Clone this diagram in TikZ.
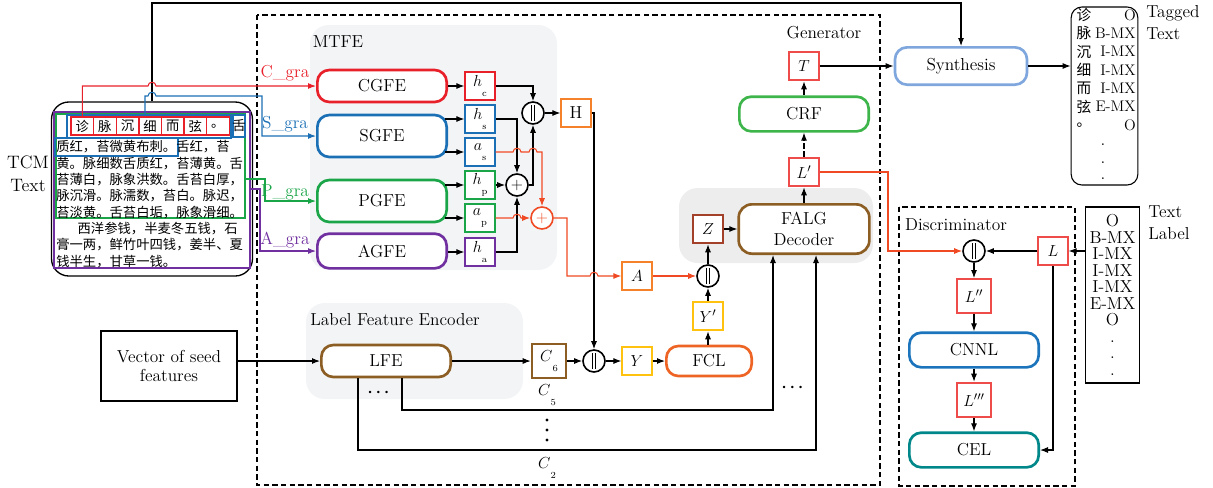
\documentclass[tikz,border=0pt]{standalone}
\usepackage{fontspec}
\usepackage{amsmath}
\newfontfamily\cjk{Noto Sans CJK SC}
\usetikzlibrary{arrows.meta,calc,positioning}

\definecolor{cgred}{HTML}{E8202A}
\definecolor{sgblue}{HTML}{1A6FB5}
\definecolor{pggreen}{HTML}{1AA548}
\definecolor{agpurple}{HTML}{7030A0}
\definecolor{redline}{HTML}{F04A24}
\definecolor{boxred}{HTML}{EE4B4B}
\definecolor{hboxorange}{HTML}{F5822A}
\definecolor{yboxyellow}{HTML}{FFC20E}
\definecolor{fclred}{HTML}{EE6424}
\definecolor{lfebrown}{HTML}{8C5E24}
\definecolor{zboxred}{HTML}{A3402A}
\definecolor{crfgreen}{HTML}{3DB54A}
\definecolor{cnnlblue}{HTML}{1C75BC}
\definecolor{celteal}{HTML}{00878A}
\definecolor{synblue}{HTML}{7FA7DE}
\definecolor{bggray}{HTML}{F3F4F6}
\definecolor{falggray}{HTML}{EDEDED}

\tikzset{
    module/.style={draw,rounded corners=9pt,line width=2pt,minimum width=97pt,fill=white,align=center,inner sep=1pt},
    valbox/.style={draw,line width=1.4pt,minimum width=22pt,minimum height=21.5pt,inner sep=0pt,fill=white},
    catnode/.style={circle,draw,line width=1.2pt,minimum size=16.5pt,inner sep=0pt,fill=white,
        path picture={
            \draw[line width=0.8pt] ([xshift=-1.4pt,yshift=-6pt]path picture bounding box.center) -- ([xshift=-1.4pt,yshift=6pt]path picture bounding box.center);
            \draw[line width=0.8pt] ([xshift=1.4pt,yshift=-6pt]path picture bounding box.center) -- ([xshift=1.4pt,yshift=6pt]path picture bounding box.center);
        }},
    sumnode/.style={circle,draw,line width=1.2pt,minimum size=16.5pt,inner sep=0pt,fill=white},
    charbox/.style={draw=cgred,line width=1pt,minimum width=17pt,minimum height=13.5pt,inner sep=0pt,font=\cjk\fontsize{10}{10}\selectfont},
    dashbox/.style={draw,dash pattern=on 4pt off 2.5pt,line width=1pt},
    conn/.style={line width=0.8pt,-{Latex[length=6pt,width=4.5pt]}},
    hopover/.style={insert path={-- ($(#1)+(-4,0)$) to[out=90,in=90,looseness=1.6] ($(#1)+(4,0)$)}}
}

\begin{document}
\begin{tikzpicture}[x=0.75pt,y=-0.75pt,font=\fontsize{13}{14}\selectfont]
    \useasboundingbox (0,0) rectangle (1213,487);

    \fill[bggray,rounded corners=14pt] (310,25) rectangle (557,270);
    \fill[bggray,rounded corners=14pt] (306,303) rectangle (523,399);
    \fill[falggray,rounded corners=14pt] (679,188) rectangle (873,263);
    \draw[dashbox] (257,15) rectangle (880,485);
    \draw[dashbox] (899,207) rectangle (1075,486);

    \node at (338,42) {MTFE};
    \node at (824,33) {Generator};
    \node at (395,320) {Label Feature Encoder};
    \node at (956,225) {Discriminator};

    % TCM text block
    \node[align=center,font=\fontsize{13.5}{17}\selectfont] (tcmlbl) at (28,174) {TCM\\Text};
    \node[draw,line width=1pt,rounded corners=13pt,minimum width=150.75pt,minimum height=130.5pt] (tcm) at (152,189) {};
    \draw[agpurple,line width=1pt] (54,112) rectangle (250,268);
    \draw[pggreen,line width=1pt] (56,114) rectangle (245,218);
    \draw[sgblue,line width=1pt] (67,115) rectangle (231,138);
    \draw[sgblue,line width=1pt] (55,138) rectangle (178,156);
    \draw[sgblue,line width=1pt] (233,115) rectangle (245,137);
    \foreach \ch [count=\i from 0] in {诊,脉,沉,细,而,弦,。} {
        \node[charbox] (c\i) at ({82.3+22.6*\i},126) {\ch};
    }
    \node[font=\cjk\fontsize{10}{10}\selectfont,inner sep=0pt] (c7) at (239,126) {舌};
    \foreach \txt [count=\i from 0] in {质红，苔微黄布刺。舌红，苔,
        黄。脉细数舌质红，苔薄黄。舌,
        苔薄白，脉象洪数。舌苔白厚，,
        脉沉滑。脉濡数，苔白。脉迟，,
        苔淡黄。舌苔白垢，脉象滑细。,
        {\hspace{16pt}西洋参钱，半麦冬五钱，石},
        膏一两，鲜竹叶四钱，姜半、夏,
        钱半生，甘草一钱。} {
        \node[anchor=west,inner sep=0pt,font=\cjk\fontsize{10}{10}\selectfont] (t\i) at (56,{147+16.3*\i}) {\txt};
    }
    \coordinate (sstart) at (145,115);
    \coordinate (gout) at (245,179);
    \coordinate (pout) at (250,189);
    \coordinate (bluey) at (0,96);
    \coordinate (srail) at (262,0);
    \coordinate (grail) at (265,0);
    \coordinate (prail) at (260,0);
    \coordinate (toprail) at (0,3);

    % MTFE
    \node[module,draw=cgred,minimum height=24pt] (cg) at (382,86) {CGFE};
    \node[module,draw=sgblue,minimum height=31.5pt] (sg) at (382,136) {SGFE};
    \node[module,draw=pggreen,minimum height=31.5pt] (pg) at (382,201) {PGFE};
    \node[module,draw=agpurple,minimum height=26pt] (ag) at (382,251) {AGFE};
    \node[text=cgred] at (285,73) {C\_gra};
    \node[text=sgblue] at (285,124) {S\_gra};
    \node[text=pggreen] at (285,192) {P\_gra};
    \node[text=agpurple] at (285,240) {A\_gra};
    \foreach \nm/\vlet/\vsub/\vcol/\vy in {hc/h/c/cgred/86, hs/h/s/sgblue/119, as/a/s/sgblue/152, hp/h/p/pggreen/185, ap/a/p/pggreen/218, ha/h/a/agpurple/252} {
        \node[valbox,draw=\vcol] (\nm) at (480,\vy) {$\vlet$\raisebox{-1.4ex}{\scriptsize\vsub}};
    }
    \node[sumnode] (sum1) at (517,185) {$+$};
    \node[catnode] (cat1) at (533,113) {};
    \node[valbox,draw=hboxorange] (H) at (576,113) {H};
    \node[sumnode,draw=redline,text=redline] (sum2) at (542,218) {$+$};
    \coordinate (redrail) at (567,0);

    % generator
    \node[valbox,draw=hboxorange] (A) at (637,276) {$A$};
    \node[catnode] (cat3) at (708,276) {};
    \node[valbox,draw=zboxred] (Z) at (708,229) {$Z$};
    \node[valbox,draw=yboxyellow] (Yp) at (708,316) {$Y'$};
    \node[module,draw=fclred,minimum width=64pt,minimum height=22.5pt] (fcl) at (709,361) {FCL};
    \node[valbox,draw=yboxyellow] (Y) at (637,361) {$Y$};
    \node[catnode] (cat2) at (594,361) {};
    \node[valbox,draw=lfebrown,minimum width=26pt,minimum height=26pt] (C6) at (549,361) {$C$\raisebox{-1.4ex}{\scriptsize 6}};
    \node[module,draw=lfebrown,minimum height=24pt] (lfe) at (386,361) {LFE};
    \node[draw,line width=0.8pt,minimum width=102pt,minimum height=52.5pt,align=center] (seed) at (169,366) {Vector of seed\\features};
    \node[module,draw=lfebrown,minimum width=98pt,minimum height=37pt,rounded corners=10pt,font=\fontsize{13}{16}\selectfont] (falg) at (804,229) {FALG\\Decoder};
    \node[valbox,draw=boxred] (Lp) at (804,172) {$L'$};
    \node[module,draw=crfgreen,minimum height=26pt] (crf) at (804,114) {CRF};
    \node[valbox,draw=boxred] (T) at (804,66) {$T$};
    \node[module,draw=synblue,minimum width=99pt,minimum height=28pt] (synth) at (961,66) {Synthesis};
    \node at (547,395) {$C$\raisebox{-1.4ex}{\scriptsize 5}};
    \node at (547,468) {$C$\raisebox{-1.4ex}{\scriptsize 2}};
    \foreach \y in {420,430,440} {
        \fill (547,\y) circle (1.2pt);
    }
    \node at (380,393) {$\boldsymbol{\cdots}$};
    \node at (794,388) {$\boldsymbol{\cdots}$};
    \coordinate (l5) at ($(lfe.south)+(16,0)$);
    \coordinate (l2) at ($(lfe.south)+(-28,0)$);
    \coordinate (f5) at ($(falg.south)+(-31,0)$);
    \coordinate (f2) at ($(falg.south)+(12,0)$);
    \coordinate (c5y) at (0,410);
    \coordinate (c2y) at (0,450);

    % tagged text
    \node[draw,line width=0.8pt,rounded corners=8pt,minimum width=50pt,minimum height=133.5pt] (tagged) at (1104.5,96) {};
    \foreach \ch/\tg [count=\i from 0] in {诊/O,脉/B-MX,沉/I-MX,细/I-MX,而/I-MX,弦/E-MX,。/O} {
        \node[font=\cjk\fontsize{11}{11}\selectfont,inner sep=0pt] at (1084,{15+18.3*\i}) {\ch};
        \node[anchor=east,inner sep=0pt,font=\fontsize{11.5}{11.5}\selectfont] at (1136,{15+18.3*\i}) {\tg};
    }
    \foreach \y in {145,163,179} {
        \node[anchor=base,inner sep=0pt] at (1103,\y) {.};
    }
    \node[anchor=north west,align=left,inner sep=0pt,font=\fontsize{13}{16.5}\selectfont] (taggedlbl) at (1146,5) {Tagged\\Text};

    % discriminator
    \node[catnode] (catD) at (974,251) {};
    \node[valbox,draw=boxred] (Lb) at (1053,251) {$L$};
    \node[valbox,draw=boxred,minimum width=26pt,minimum height=25.5pt] (L2) at (974,296) {$L''$};
    \node[module,draw=cnnlblue,minimum height=26pt] (cnnl) at (974,350) {CNNL};
    \node[valbox,draw=boxred,minimum width=26pt,minimum height=26pt] (L3) at (974,400) {$L'''$};
    \node[module,draw=celteal,minimum height=26pt] (cel) at (974,450) {CEL};
    \node[draw,line width=0.8pt,minimum width=40pt,minimum height=132pt,align=center,inner sep=0pt,font=\fontsize{13}{12.4}\selectfont] (tlabel) at (1112.5,295) {O\\B-MX\\I-MX\\I-MX\\I-MX\\E-MX\\O\\.\\.\\.};
    \node[anchor=north west,align=left,inner sep=0pt,font=\fontsize{13}{16.5}\selectfont] (tlabellbl) at (1148,205) {Text\\Label};
    \coordinate (drail) at (888,0);

    % connectors
    \draw[conn] (tcm.north) |- (toprail -| synth.north) -- (synth.north);
    \draw[conn,cgred] (c0.north) -- (c0.north |- cg.west) [hopover={cg.west -| tcm.north}] -- (cg.west);
    \draw[conn,sgblue] (sstart) -- (sstart |- bluey) [hopover={bluey -| tcm.north}] -- (bluey -| srail) -- (srail |- sg.west) -- (sg.west);
    \draw[conn,pggreen] (gout) -- (gout -| grail) -- (grail |- pg.west) -- (pg.west);
    \draw[conn,agpurple] (pout) -- (pout -| prail) -- (prail |- ag.west) -- (ag.west);

    \draw[conn] (cg.east) -- (hc.west);
    \draw[conn] ($(sg.east |- hs)+(-3,0)$) -- (hs.west);
    \draw[conn] ($(sg.east |- as)+(-3,0)$) -- (as.west);
    \draw[conn] ($(pg.east |- hp)+(-3,0)$) -- (hp.west);
    \draw[conn] ($(pg.east |- ap)+(-3,0)$) -- (ap.west);
    \draw[conn] (ag.east |- ha) -- (ha.west);
    \draw[conn] (hc.east) -| (cat1.north);
    \draw[conn] (hs.east) -| (sum1.north);
    \draw[conn] (hp.east) -- (sum1.west);
    \draw[conn] (ha.east) -| (sum1.south);
    \draw[conn] (sum1.east) -| (cat1.south);
    \draw[conn] (cat1.east) -- (H.west);
    \draw[conn] (H.east) -| (cat2.north);
    \draw[conn,redline] (as.east) [hopover={as.east -| sum1}] [hopover={as.east -| cat1}] -| (sum2.north);
    \draw[conn,redline] (ap.east) [hopover={ap.east -| sum1}] -- (sum2.west);
    \draw[conn,redline] (sum2.east) -- (sum2.east -| redrail) -- (redrail |- A.west) [hopover={A.west -| cat2}] -- (A.west);
    \draw[conn,redline] (A.east) -- (cat3.west);

    \draw[conn] (cat3.north) -- (Z.south);
    \draw[conn] (Z.east) -- (falg.west |- Z);
    \draw[conn] (Yp.north) -- (cat3.south);
    \draw[conn] (fcl.north -| Yp) -- (Yp.south);
    \draw[conn] (Y.east) -- (fcl.west);
    \draw[conn] (cat2.east) -- (Y.west);
    \draw[conn] (C6.east) -- (cat2.west);
    \draw[conn] (lfe.east) -- (C6.west);
    \draw[conn] (seed.east |- lfe) -- (lfe.west);
    \draw[conn] (l5) |- (c5y -| f5) -- (f5);
    \draw[conn] (l2) |- (c2y -| f2) -- (f2);
    \draw[conn] (falg.north) -- (Lp.south);
    \draw[conn,dash pattern=on 4pt off 2pt] (Lp.north) -- (crf.south);
    \draw[conn] (crf.north) -- (T.south);
    \draw[conn] (T.east) -- (synth.west);
    \draw[conn] (synth.east) -- (tagged.west |- synth);

    \draw[conn,redline] (Lp.east) -- (Lp.east -| drail) -- (drail |- catD) -- (catD.west);
    \draw[conn] (tlabel.west |- Lb) -- (Lb.east);
    \draw[conn] (Lb.west) -- (catD.east);
    \draw[conn] (catD.south) -- (L2.north);
    \draw[conn] (L2.south) -- (cnnl.north);
    \draw[conn] (cnnl.south) -- (L3.north);
    \draw[conn] (L3.south) -- (cel.north);
    \draw[conn] (Lb.south) |- (cel.east);
\end{tikzpicture}
\end{document}
